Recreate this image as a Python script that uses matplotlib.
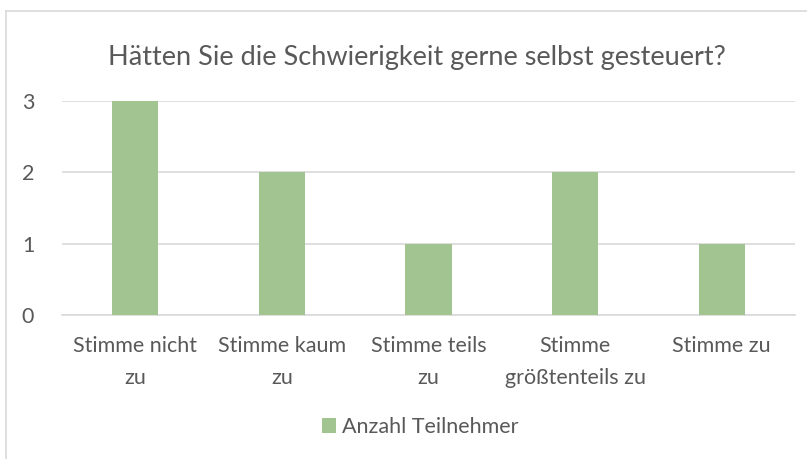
import matplotlib.pyplot as plt
from matplotlib.lines import Line2D
from matplotlib.patches import Patch

categories = ["Stimme nicht\nzu", "Stimme kaum\nzu", "Stimme teils\nzu", "Stimme\ngrößtenteils zu", "Stimme zu"]
values = [3, 2, 1, 2, 1]
y_ticks = [0, 1, 2, 3]
series_name = "Anzahl Teilnehmer"
title = "Hätten Sie die Schwierigkeit gerne selbst gesteuert?"

W, H = 807, 459
bar_color = "#A1C490"
text_color = "#595959"
grid_color = "#D9D9D9"

plt.rcParams["font.family"] = ["Lato", "DejaVu Sans"]

fig = plt.figure(figsize=(W / 100, H / 100), dpi=100)
ax = fig.add_axes([62 / W, 1 - 315 / H, (795 - 62) / W, (315 - 101) / H])

x = list(range(len(categories)))
ax.bar(x, values, width=0.315, color=bar_color, zorder=3)
ax.set_xlim(-0.5, len(categories) - 0.5)
ax.set_ylim(0, 3)
ax.set_yticks(y_ticks)
ax.set_xticks(x)
ax.set_xticklabels(categories, fontsize=15.5, color=text_color, linespacing=1.75)
ax.tick_params(axis="y", labelsize=15.5, labelcolor=text_color, length=0, pad=20)
ax.tick_params(axis="x", length=0, pad=15)
ax.grid(axis="y", color=grid_color, linewidth=1.2, zorder=0)
for side in ["top", "right", "left"]:
    ax.spines[side].set_visible(False)
ax.spines["bottom"].set_color(grid_color)
ax.spines["bottom"].set_linewidth(1.2)

fig.text(417 / W, 1 - 57 / H, title, ha="center", va="center", fontsize=19.5, color=text_color)

handles = [Patch(facecolor=bar_color, label=series_name)]
fig.legend(handles=handles, loc="center", bbox_to_anchor=(420 / W, 1 - 427 / H), frameon=False,
           fontsize=15.5, labelcolor=text_color, handlelength=0.65, handleheight=0.65,
           handletextpad=0.3)

# chart frame (cropped at right and bottom)
fig.add_artist(Line2D([6 / W, 1], [1 - 11 / H, 1 - 11 / H], color=grid_color, linewidth=1.2))
fig.add_artist(Line2D([6 / W, 6 / W], [0, 1 - 11 / H], color=grid_color, linewidth=1.2))

fig.savefig("out.png", dpi=100)
